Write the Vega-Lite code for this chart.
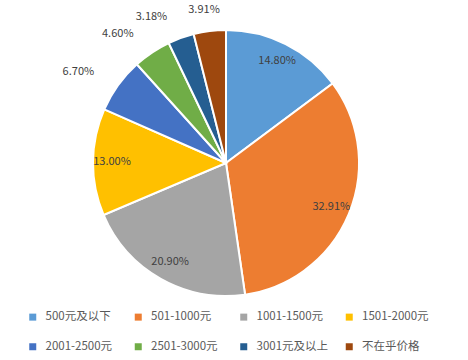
{
  "$schema": "https://vega.github.io/schema/vega-lite/v6.json",
  "width": 452,
  "height": 326,
  "autosize": {"type": "none"},
  "padding": {"left": 0, "top": 0, "right": 16, "bottom": 34},
  "background": "white",
  "config": {"view": {"stroke": null}, "font": "Noto Sans CJK SC"},
  "data": {
    "values": [
      {"category": "500元及以下", "share": 0.1480, "order": 1},
      {"category": "501-1000元", "share": 0.3291, "order": 2},
      {"category": "1001-1500元", "share": 0.2090, "order": 3},
      {"category": "1501-2000元", "share": 0.1300, "order": 4},
      {"category": "2001-2500元", "share": 0.0670, "order": 5},
      {"category": "2501-3000元", "share": 0.0460, "order": 6},
      {"category": "3001元及以上", "share": 0.0318, "order": 7},
      {"category": "不在乎价格", "share": 0.0391, "order": 8}
    ]
  },
  "encoding": {
    "theta": {"field": "share", "type": "quantitative", "stack": true},
    "order": {"field": "order", "type": "quantitative"}
  },
  "layer": [
    {
      "mark": {"type": "arc", "outerRadius": 133, "stroke": "white", "strokeWidth": 2},
      "encoding": {
        "color": {
          "field": "category",
          "type": "nominal",
          "scale": {
            "domain": ["500元及以下", "501-1000元", "1001-1500元", "1501-2000元", "2001-2500元", "2501-3000元", "3001元及以上", "不在乎价格"],
            "range": ["#5B9BD5", "#ED7D31", "#A5A5A5", "#FFC000", "#4472C4", "#70AD47", "#255E91", "#9E480E"]
          },
          "legend": {
            "orient": "none",
            "legendX": 27,
            "legendY": 311,
            "direction": "horizontal",
            "columns": 4,
            "gridAlign": "all",
            "columnPadding": 14.5,
            "rowPadding": 17,
            "title": null,
            "symbolType": "square",
            "symbolSize": 49,
            "symbolStrokeWidth": 0,
            "labelOffset": 7,
            "labelFontSize": 11.5,
            "labelColor": "#595959",
            "labelFont": "Noto Sans CJK SC"
          }
        }
      }
    },
    {
      "mark": {"type": "text", "radius": 114, "fontSize": 11, "color": "#404040"},
      "encoding": {
        "text": {"field": "share", "type": "quantitative", "format": ".2%"},
        "opacity": {"condition": {"test": "datum.share > 0.1", "value": 1}, "value": 0}
      }
    },
    {
      "mark": {"type": "text", "radius": 155, "dx": -22, "fontSize": 11, "color": "#404040"},
      "encoding": {
        "text": {"field": "share", "type": "quantitative", "format": ".2%"},
        "opacity": {"condition": {"test": "datum.share < 0.1 && datum.order < 8", "value": 1}, "value": 0}
      }
    },
    {
      "mark": {"type": "text", "radius": 155, "dx": -3, "dy": 1, "fontSize": 11, "color": "#404040"},
      "encoding": {
        "text": {"field": "share", "type": "quantitative", "format": ".2%"},
        "opacity": {"condition": {"test": "datum.order == 8", "value": 1}, "value": 0}
      }
    }
  ]
}
